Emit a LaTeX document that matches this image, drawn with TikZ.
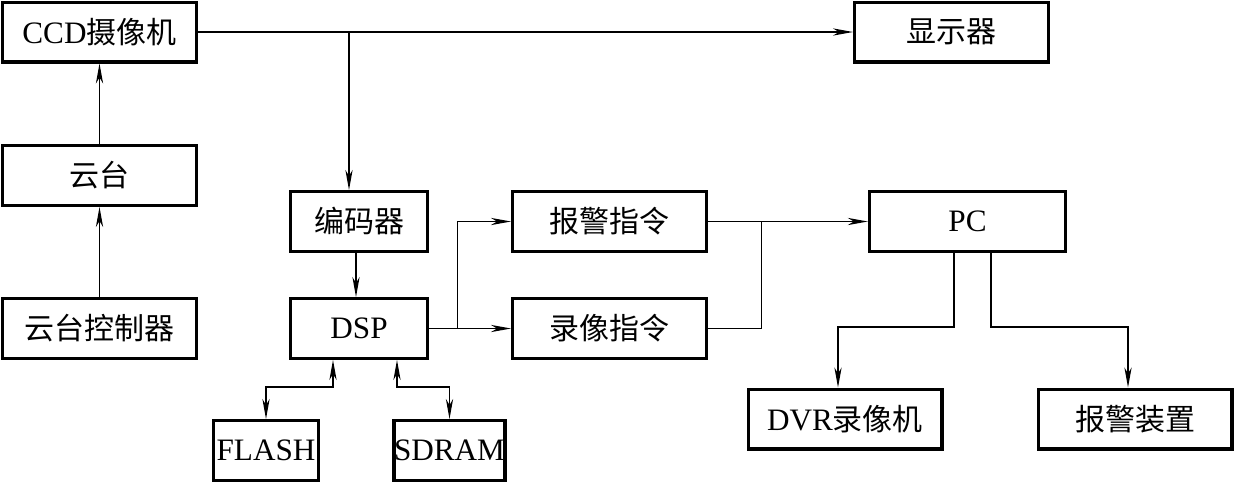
\documentclass[tikz,border=0pt]{standalone}
\usepackage{fontspec}
\setmainfont[Scale=1.04]{Liberation Serif}
\newfontfamily\cjk{Noto Sans CJK SC}
\usetikzlibrary{positioning, arrows.meta}

\begin{document}
\begin{tikzpicture}[node distance=2cm, on grid,
    >={Stealth[length=10pt, width=3.6pt, inset=3pt]},
    box/.style={draw, line width=1.7pt, minimum width=96.8pt, minimum height=29.8pt,
                inner sep=1pt, font=\fontsize{15}{18}\selectfont},
    mid/.style={box, minimum width=68.3pt},
    small/.style={box, minimum width=52.3pt, inner sep=0pt},
    wire/.style={line width=0.65pt}]
        \useasboundingbox (0,0) rectangle (617.5pt,-241.5pt);

        \node[box] (ccd) at (49.75pt,-16pt) {CCD\cjk 摄像机};
        \node[box] (yt) [below=71.75pt of ccd] {\cjk 云台};
        \node[box] (ytk) [below=76.5pt of yt] {\cjk 云台控制器};
        \node[box] (xsq) [right=426pt of ccd] {\cjk 显示器};
        \node[mid] (dsp) [right=129.75pt of ytk] {DSP};
        \node[mid] (bmq) [above=53.5pt of dsp] {\cjk 编码器};
        \node[box] (lxzl) [right=125.25pt of dsp] {\cjk 录像指令};
        \node[box] (bjzl) [above=53.5pt of lxzl] {\cjk 报警指令};
        \node[box, minimum width=98pt] (pc) [right=179pt of bjzl] {PC};
        \node[box] (dvr) [below left=98.75pt and 61.25pt of pc] {DVR\cjk 录像机};
        \node[box] (bjzz) [right=145pt of dvr] {\cjk 报警装置};
        \node[small] (flash) [below left=61pt and 46.5pt of dsp] {FLASH};
        \node[small] (sdram) [right=91.75pt of flash] {SDRAM};

        % branch points
        \coordinate (t1) at ([xshift=-5pt]bmq.north |- ccd.east);
        \coordinate (j1) at ([xshift=14.25pt]dsp.east);
        \coordinate (j2) at ([xshift=26.75pt]bjzl.east);

        \draw[wire, ->] (ccd) -- (xsq);
        \draw[wire, ->] (t1) -- ([xshift=-5pt]bmq.north);
        \draw[wire, ->] (yt) -- (ccd);
        \draw[wire, ->] (ytk) -- (yt);
        \draw[wire, ->] ([xshift=-1.5pt]bmq.south) -- ([xshift=-1.5pt]dsp.north);

        \draw[wire, ->] (dsp) -- (lxzl);
        \draw[wire, ->] (j1) |- (bjzl);
        \draw[wire, ->] (bjzl) -- (pc);
        \draw[wire] (lxzl) -| (j2);

        \draw[wire, ->] ([xshift=-6.75pt]pc.south) -- ++(0,-37pt) -| ([xshift=-3.5pt]dvr.north);
        \draw[wire, ->] ([xshift=11.75pt]pc.south) -- ++(0,-37pt) -| ([xshift=-3.5pt]bjzz.north);

        \draw[wire, <->] ([xshift=-13pt]dsp.south) -- ++(0,-13.5pt) -| (flash);
        \draw[wire, <->] ([xshift=19pt]dsp.south) -- ++(0,-13.5pt) -| (sdram);
     \end{tikzpicture}
\end{document}
